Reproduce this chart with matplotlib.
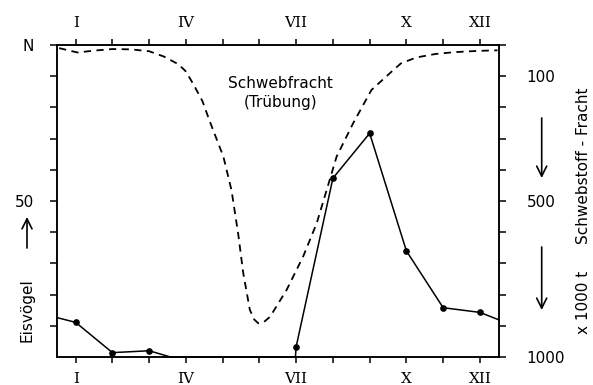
import matplotlib
matplotlib.use("Agg")
import matplotlib.pyplot as plt
from matplotlib.patches import FancyArrowPatch

# ---- data ----
months = list(range(1, 13))
month_labels = ["I", "", "", "IV", "", "", "VII", "", "", "X", "", "XII"]

# Eisvögel (left axis, N) - solid line
eis_x = [0.5, 1, 2, 3, 3.58, 6.98, 7, 8, 9, 10, 11, 12, 12.52]
eis_y = [12.6, 11.1, 1.4, 2.0, 0, 0, 3.3, 57.3, 71.7, 34, 15.8, 14.3, 11.9]
eis_marked = [1, 2, 3, 6, 7, 8, 9, 10, 11]  # indices with dots

# Schwebfracht (right axis, x 1000 t, inverted) - dashed line
fr_x = [0.55, 1.05, 1.5, 2.0, 2.5, 3.0, 3.4, 3.8, 4.0, 4.2, 4.45, 4.65, 5.02,
        5.24, 5.42, 5.56, 5.74, 5.86, 5.97, 6.12, 6.29, 6.74, 7.19, 7.56,
        7.83, 8.1, 8.55, 9.05, 9.6, 9.85, 10.27, 10.78, 11.3, 11.92, 12.48]
fr_y = [10, 24, 18, 13, 14, 20, 37, 62, 85, 125, 180, 245, 358,
        465, 603, 731, 849, 880, 892, 888, 871, 785, 678, 571,
        465, 358, 251, 144, 85, 59, 40, 29, 23, 19, 17]

left_ticks = [10, 20, 30, 40, 50, 60, 70, 80, 90, 100]
left_labels = ["", "", "", "", "50", "", "", "", "", "N"]
right_ticks = [0, 100, 200, 300, 400, 500, 600, 700, 800, 900, 1000]
right_labels = ["", "100", "", "", "", "500", "", "", "", "", "1000"]

W, H = 593, 385
fig = plt.figure(figsize=(W / 100, H / 100), dpi=100)
ax = fig.add_axes([57.3 / W, 1 - 357 / H, (499 - 57.3) / W, (357 - 45) / H])

lw_axis = 1.1
for s in ax.spines.values():
    s.set_linewidth(lw_axis)

ax.plot(eis_x, eis_y, color="black", lw=1.1, marker="o", ms=3.8,
        markevery=eis_marked, clip_on=False, zorder=3)
ax.set_xlim(0.5, 12.52)
ax.set_ylim(0, 100)

ax.set_xticks(months)
ax.set_xticklabels(month_labels, fontfamily="DejaVu Serif", fontsize=11)
ax.tick_params(axis="x", which="both", direction="out", length=4,
               width=lw_axis, top=True, labeltop=True, pad=7)
ax.set_yticks(left_ticks)
ax.set_yticklabels(left_labels, fontsize=11)
ax.tick_params(axis="y", direction="out", length=5, width=lw_axis, pad=12)

ax2 = ax.twinx()
ax2.plot(fr_x, fr_y, color="black", lw=1.3, ls=(0, (4, 3)), zorder=2)
ax2.set_ylim(1000, 0)
ax2.set_yticks(right_ticks)
ax2.set_yticklabels(right_labels, fontsize=11)
ax2.tick_params(axis="y", direction="out", length=5, width=lw_axis, pad=15)
for s in ax2.spines.values():
    s.set_linewidth(lw_axis)


def fx(px):
    return px / W


def fy(py):
    return 1 - py / H


fig.text(fx(280), fy(83), "Schwebfracht", ha="center", va="center", fontsize=11)
fig.text(fx(281), fy(103), "(Trübung)", ha="center", va="center", fontsize=11)

fig.text(fx(27), fy(310), "Eisvögel", ha="center", va="center",
         rotation=90, fontsize=11)
fig.text(fx(583), fy(166), "Schwebstoff - Fracht", ha="center", va="center",
         rotation=90, fontsize=11)
fig.text(fx(583), fy(302), "x 1000 t", ha="center", va="center",
         rotation=90, fontsize=11)

arrow = dict(arrowstyle="->,head_length=0.6,head_width=0.3", lw=1.2,
             color="black", shrinkA=0, shrinkB=0, mutation_scale=12,
             transform=fig.transFigure)
fig.add_artist(FancyArrowPatch((fx(27), fy(248)), (fx(27), fy(217)), **arrow))
fig.add_artist(FancyArrowPatch((fx(541.7), fy(118)), (fx(541.7), fy(178)), **arrow))
fig.add_artist(FancyArrowPatch((fx(541.7), fy(247)), (fx(541.7), fy(310)), **arrow))

fig.savefig("out.png", dpi=100)
